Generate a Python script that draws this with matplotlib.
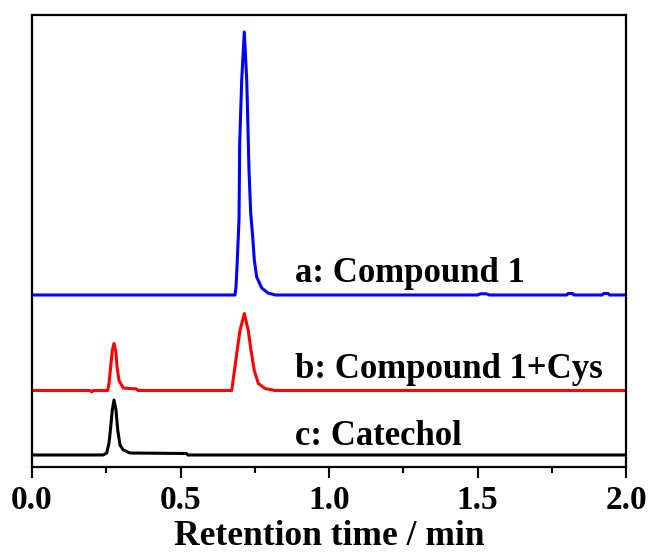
import matplotlib
matplotlib.use("Agg")
import matplotlib.pyplot as plt
from matplotlib.ticker import MultipleLocator

# Retention time (min) and signal (a.u., relative to each trace's baseline)
t_a = [0.0, 0.6835, 0.6869, 0.6902, 0.6970, 0.6993, 0.7061, 0.7148, 0.7229, 0.7263,
       0.7306, 0.7364, 0.7431, 0.7485, 0.7566, 0.7734, 0.7946, 0.82, 1.50, 1.51, 1.53,
       1.54, 1.80, 1.805, 1.82, 1.825, 1.92, 1.925, 1.94, 1.945, 2.0]
s_a = [0, 0, 8, 28, 75, 152, 215, 263, 215, 178,
       125, 82, 58, 35, 18, 7, 2, 0, 0, 1.2, 1.2,
       0, 0, 1.5, 1.5, 0, 0, 1.5, 1.5, 0, 0]

t_b = [0.0, 0.195, 0.201, 0.207, 0.2549, 0.2593, 0.266, 0.2704, 0.2761, 0.2818, 0.2862,
       0.2929, 0.3074, 0.3525, 0.357, 0.6724, 0.6835, 0.6926, 0.7003, 0.7148, 0.7283,
       0.7374, 0.7485, 0.7620, 0.7845, 0.818, 2.0]
s_b = [0, 0, -1.5, 0, 0, 7, 27, 40, 47, 40, 24,
       10, 2.5, 1.5, 0, 0, 24, 44, 60, 77, 60,
       40, 20, 7, 2, 0, 0]

t_c = [0.0, 0.239, 0.2515, 0.2593, 0.265, 0.2704, 0.2761, 0.2828, 0.2886, 0.2963,
       0.3074, 0.33, 0.52, 0.525, 2.0]
s_c = [0, 0, 2, 12, 28, 45, 55, 45, 25, 10,
       5, 2, 1.5, 0, 0]

offset_a = 172
offset_b = 76.5
offset_c = 12

labels = ["a: Compound 1", "b: Compound 1+Cys", "c: Catechol"]
xticks = [0.0, 0.5, 1.0, 1.5, 2.0]
xtick_labels = ["0.0", "0.5", "1.0", "1.5", "2.0"]
xlabel = "Retention time / min"

plt.rcParams['font.family'] = ['Liberation Serif', 'DejaVu Serif']
plt.rcParams['font.weight'] = 'bold'

fig = plt.figure(figsize=(6.49, 5.53), dpi=100)
ax = fig.add_axes([32 / 649, 86 / 553, 594 / 649, 452 / 553])

ax.plot(t_a, [v + offset_a for v in s_a], color='#0000ff', lw=2.2, solid_joinstyle='round')
ax.plot(t_b, [v + offset_b for v in s_b], color='#ff0000', lw=2.2, solid_joinstyle='round')
ax.plot(t_c, [v + offset_c for v in s_c], color='#000000', lw=2.2, solid_joinstyle='round')

txt_kw = dict(fontsize=25, fontweight='bold', ha='left', va='baseline')
ax.text(0.886, 185, labels[0], **txt_kw)
ax.text(0.886, 89, labels[1], **txt_kw)
ax.text(0.886, 22, labels[2], **txt_kw)

ax.set_xlim(0, 2.0)
ax.set_ylim(0, 452)
ax.set_xticks(xticks)
ax.set_xticklabels(xtick_labels, fontsize=24, fontweight='bold')
ax.xaxis.set_minor_locator(MultipleLocator(0.25))
ax.set_yticks([])
ax.tick_params(axis='x', which='major', direction='out', length=8, width=1.5, pad=5)
ax.tick_params(axis='x', which='minor', direction='out', length=4.3, width=1.5)
for sp in ax.spines.values():
    sp.set_linewidth(1.6)
ax.set_xlabel(xlabel, fontsize=25.5, fontweight='bold', labelpad=3)

fig.savefig("out.png", dpi=100)
